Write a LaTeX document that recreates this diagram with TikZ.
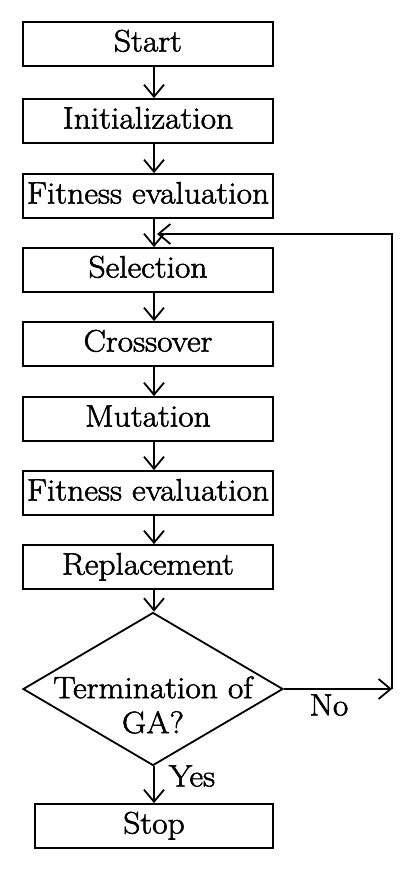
\documentclass[tikz,border=0pt]{standalone}
\usepackage{fontspec}
\setmainfont{Latin Modern Roman}[FakeStretch=1.08, FakeBold=1.8]
\usepackage{tikz}
\usetikzlibrary{arrows.meta}
\usetikzlibrary{shapes.geometric}

\begin{document}
\begin{tikzpicture}[x=1pt, y=-1pt, line width=1.8pt,
        >={Straight Barb[length=12pt,width=20pt]},
        stepbox/.style={draw, minimum width=250pt, minimum height=44pt, inner sep=0pt,
            text height=21pt, text depth=6pt, font=\fontsize{31}{35}\selectfont},
        decision/.style={draw, diamond, minimum width=260pt, minimum height=153pt, inner sep=0pt},
        txt/.style={inner sep=0pt, font=\fontsize{31}{35}\selectfont}]
        \useasboundingbox (0,0) rectangle (412,869);

        \foreach \name/\ypos/\lbl in {start/44/Start, init/121/Initialization, fitA/196/Fitness evaluation,
            sel/270/Selection, cross/344/Crossover, mut/419/Mutation, fitB/493/Fitness evaluation, repl/567/Replacement}
            \node[stepbox] (\name) at (148,\ypos) {\lbl};
        \node[decision] (term) at (153,689) {};
        \node[txt, align=center] (termtext) at (153,705) {Termination of\\GA?};
        \node[stepbox, minimum width=238pt] (stop) at (154,826) {Stop};

        \coordinate (axis) at (154,0);
        \foreach \i/\j in {start/init, init/fitA, fitA/sel, sel/cross, cross/mut, mut/fitB, fitB/repl, repl/term, term/stop}
            \draw[->] (\i.south -| axis) -- (\j.north -| axis);

        \coordinate (corner) at (392,689);
        \coordinate (join) at (157,234);
        \draw[->] (term.east) -- (corner);
        \draw[->] (corner) |- (join);
        \node[txt] (no) at (329,705) {No};
        \node[txt] (yes) at (192,776) {Yes};
\end{tikzpicture}
\end{document}
